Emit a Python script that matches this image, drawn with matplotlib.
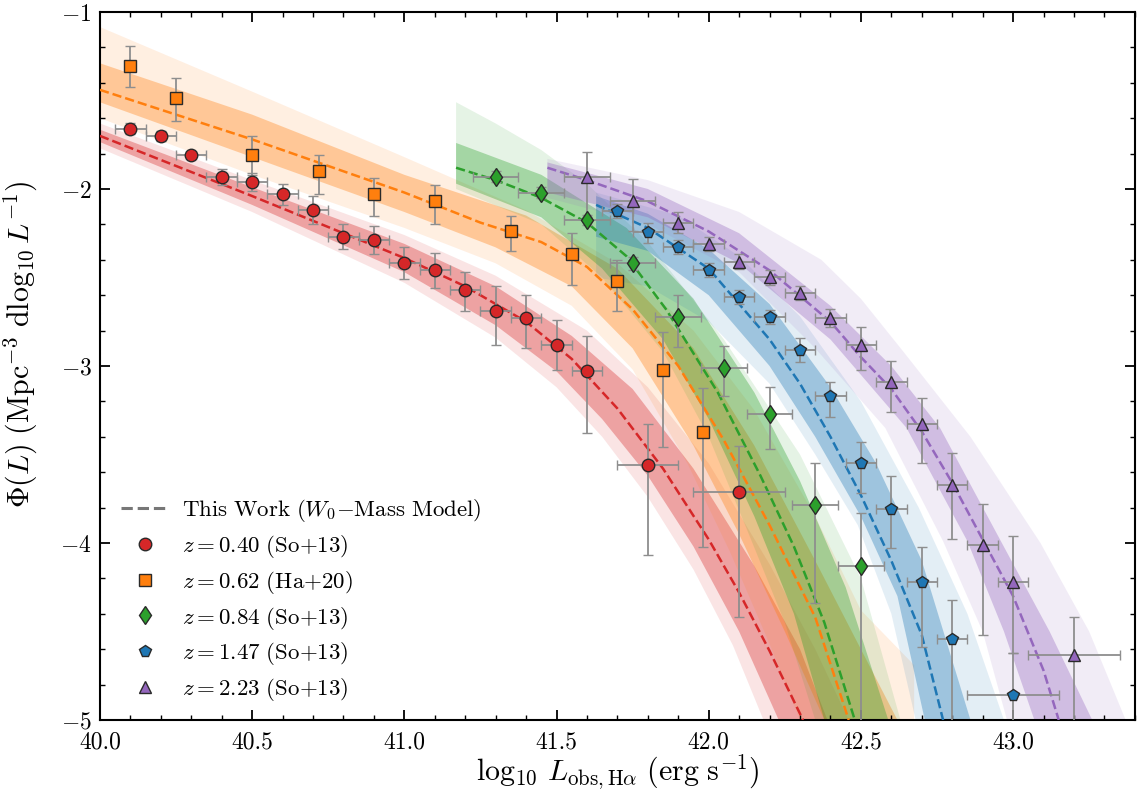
import numpy as np
import matplotlib
matplotlib.use('Agg')
import matplotlib.pyplot as plt
from matplotlib.lines import Line2D
from matplotlib.ticker import MultipleLocator, FormatStrFormatter

plt.rcParams['font.family'] = 'serif'
plt.rcParams['font.serif'] = ['cmr10', 'DejaVu Serif']
plt.rcParams['mathtext.fontset'] = 'cm'
plt.rcParams['axes.formatter.use_mathtext'] = True

red_x = [40.1, 40.2, 40.3, 40.4, 40.5, 40.6, 40.7, 40.8, 40.9, 41.0, 41.1, 41.2, 41.3, 41.4, 41.5, 41.6, 41.8, 42.1]
red_y = [-1.66, -1.70, -1.81, -1.93, -1.96, -2.03, -2.12, -2.27, -2.29, -2.42, -2.46, -2.57, -2.69, -2.73, -2.88, -3.03, -3.56, -3.71]
red_up = [0.03, 0.03, 0.02, 0.04, 0.05, 0.06, 0.08, 0.07, 0.08, 0.09, 0.10, 0.10, 0.14, 0.13, 0.14, 0.20, 0.23, 0.26]
red_dn = [0.03, 0.03, 0.02, 0.05, 0.05, 0.06, 0.08, 0.07, 0.08, 0.09, 0.10, 0.12, 0.19, 0.17, 0.14, 0.35, 0.51, 0.71]
red_xe = [0.05] * 16 + [0.10, 0.15]

ora_x = [40.1, 40.25, 40.5, 40.72, 40.9, 41.1, 41.35, 41.55, 41.7, 41.85, 41.98]
ora_y = [-1.305, -1.485, -1.81, -1.90, -2.03, -2.07, -2.24, -2.37, -2.52, -3.02, -3.375]
ora_up = [0.115, 0.11, 0.11, 0.09, 0.09, 0.09, 0.09, 0.12, 0.12, 0.21, 0.25]
ora_dn = [0.12, 0.13, 0.11, 0.13, 0.12, 0.13, 0.11, 0.17, 0.17, 0.44, 0.65]

grn_x = [41.3, 41.45, 41.6, 41.75, 41.9, 42.05, 42.2, 42.35, 42.5]
grn_y = [-1.93, -2.02, -2.175, -2.42, -2.725, -3.01, -3.27, -3.785, -4.13]
grn_up = [0.03, 0.03, 0.03, 0.035, 0.125, 0.125, 0.15, 0.235, 0.30]
grn_dn = [0.03, 0.03, 0.03, 0.035, 0.165, 0.16, 0.20, 0.555, 0.90]
grn_xe = [0.075] * 9

blu_x = [41.7, 41.8, 41.9, 42.0, 42.1, 42.2, 42.3, 42.4, 42.5, 42.6, 42.7, 42.8, 43.0]
blu_y = [-2.125, -2.245, -2.33, -2.46, -2.61, -2.725, -2.91, -3.17, -3.55, -3.81, -4.22, -4.54, -4.86]
blu_up = [0.04, 0.05, 0.04, 0.04, 0.04, 0.04, 0.07, 0.08, 0.12, 0.19, 0.20, 0.22, 0.24]
blu_dn = [0.04, 0.06, 0.04, 0.04, 0.04, 0.04, 0.07, 0.12, 0.17, 0.22, 0.37, 0.60, 0.50]
blu_xe = [0.05] * 12 + [0.15]

pur_x = [41.6, 41.75, 41.9, 42.0, 42.1, 42.2, 42.3, 42.4, 42.5, 42.6, 42.7, 42.8, 42.9, 43.0, 43.2]
pur_y = [-1.93, -2.07, -2.19, -2.31, -2.41, -2.50, -2.59, -2.73, -2.88, -3.09, -3.33, -3.67, -4.01, -4.22, -4.63]
pur_up = [0.14, 0.125, 0.06, 0.04, 0.04, 0.04, 0.04, 0.05, 0.10, 0.12, 0.15, 0.18, 0.23, 0.26, 0.21]
pur_dn = [0.23, 0.17, 0.06, 0.04, 0.04, 0.04, 0.04, 0.05, 0.14, 0.17, 0.22, 0.31, 0.51, 0.40, 0.50]
pur_xe = [0.075, 0.075] + [0.05] * 12 + [0.15]

# ---- model curves (dashed median) ----
red_mx = [40.0, 40.5, 41.0, 41.2, 41.4, 41.55, 41.7, 41.85, 42.0, 42.1, 42.2, 42.31]
red_my = [-1.70, -2.04, -2.39, -2.55, -2.75, -2.96, -3.24, -3.58, -3.98, -4.28, -4.61, -5.0]
ora_mx = [40.0, 40.5, 41.0, 41.25, 41.45, 41.6, 41.75, 41.9, 42.05, 42.2, 42.35, 42.46]
ora_my = [-1.44, -1.72, -2.02, -2.19, -2.30, -2.44, -2.68, -3.00, -3.42, -3.90, -4.42, -5.0]
grn_mx = [41.17, 41.3, 41.45, 41.6, 41.73, 41.86, 42.03, 42.17, 42.28, 42.38, 42.48]
grn_my = [-1.88, -1.95, -2.05, -2.19, -2.38, -2.68, -3.15, -3.62, -4.02, -4.45, -5.0]
blu_mx = [41.63, 41.8, 42.0, 42.2, 42.3, 42.4, 42.5, 42.6, 42.7, 42.77]
blu_my = [-2.09, -2.22, -2.45, -2.85, -3.10, -3.40, -3.73, -4.10, -4.52, -5.0]
pur_mx = [41.47, 41.6, 41.8, 42.0, 42.2, 42.4, 42.5, 42.6, 42.7, 42.8, 42.9, 43.0, 43.1, 43.15]
pur_my = [-1.88, -1.95, -2.07, -2.24, -2.46, -2.75, -2.95, -3.13, -3.37, -3.66, -3.98, -4.30, -4.72, -5.0]

# ---- inner (dark) bands: upper edge / lower edge ----
red_in_up = ([40.0, 40.5, 41.0, 41.3, 41.55, 41.75, 41.95, 42.15, 42.3, 42.39],
             [-1.665, -1.99, -2.31, -2.55, -2.83, -3.13, -3.58, -4.13, -4.6, -5.0])
red_in_lo = ([40.0, 40.5, 41.0, 41.3, 41.5, 41.65, 41.8, 41.95, 42.1, 42.23],
             [-1.735, -2.09, -2.47, -2.77, -3.03, -3.30, -3.62, -4.02, -4.5, -5.0])
ora_in_up = ([40.0, 40.5, 41.0, 41.4, 41.7, 41.95, 42.15, 42.35, 42.5, 42.62],
             [-1.29, -1.58, -1.92, -2.15, -2.45, -2.90, -3.45, -4.1, -4.6, -5.0])
ora_in_lo = ([40.0, 40.5, 41.0, 41.3, 41.55, 41.75, 41.95, 42.1, 42.25, 42.38],
             [-1.51, -1.82, -2.13, -2.33, -2.55, -2.90, -3.45, -3.95, -4.5, -5.0])
grn_in_up = ([41.17, 41.45, 41.73, 41.95, 42.15, 42.3, 42.45, 42.59],
             [-1.74, -1.92, -2.22, -2.62, -3.15, -3.65, -4.25, -5.0])
grn_in_lo = ([41.17, 41.45, 41.65, 41.85, 42.0, 42.15, 42.28, 42.38],
             [-1.97, -2.16, -2.45, -2.85, -3.3, -3.85, -4.4, -5.0])
blu_in_up = ([41.63, 41.8, 42.0, 42.2, 42.4, 42.55, 42.7, 42.86],
             [-2.04, -2.14, -2.34, -2.65, -3.12, -3.55, -4.1, -5.0])
blu_in_lo = ([41.63, 41.8, 42.0, 42.2, 42.35, 42.5, 42.62, 42.71],
             [-2.27, -2.35, -2.60, -3.0, -3.4, -3.85, -4.3, -5.0])
pur_in_up = ([41.47, 41.8, 42.1, 42.4, 42.6, 42.76, 42.96, 43.12, 43.26],
             [-1.85, -2.00, -2.25, -2.66, -3.0, -3.35, -3.99, -4.5, -5.0])
pur_in_lo = ([41.47, 41.8, 42.1, 42.4, 42.55, 42.65, 42.85, 42.97, 43.07],
             [-2.02, -2.16, -2.42, -2.85, -3.15, -3.35, -3.99, -4.5, -5.0])

# ---- outer (light) bands ----
red_out_up = ([40.0, 40.5, 41.0, 41.3, 41.6, 41.8, 42.0, 42.2, 42.35, 42.46],
              [-1.63, -1.95, -2.26, -2.49, -2.80, -3.12, -3.55, -4.12, -4.6, -5.0])
red_out_lo = ([40.0, 40.5, 41.0, 41.3, 41.5, 41.65, 41.8, 41.95, 42.08, 42.18],
              [-1.77, -2.13, -2.53, -2.84, -3.12, -3.40, -3.74, -4.15, -4.58, -5.0])
ora_out_up = ([40.0, 40.5, 41.0, 41.4, 41.7, 41.95, 42.15, 42.35, 42.5, 42.675, 42.675],
              [-1.085, -1.45, -1.82, -2.12, -2.42, -2.80, -3.25, -3.85, -4.38, -4.69, -5.0])
ora_out_lo = ([40.0, 40.5, 41.0, 41.3, 41.55, 41.75, 41.93, 42.07, 42.2, 42.3],
              [-1.60, -1.92, -2.22, -2.42, -2.66, -3.02, -3.55, -4.05, -4.57, -5.0])
grn_out_up = ([41.17, 41.3, 41.45, 41.6, 41.8, 42.05, 42.3, 42.5, 42.63],
              [-1.51, -1.63, -1.78, -1.97, -2.30, -2.85, -3.5, -4.2, -5.0])
grn_out_lo = ([41.17, 41.45, 41.65, 41.85, 42.0, 42.12, 42.25, 42.35],
              [-2.0, -2.2, -2.5, -2.92, -3.4, -3.9, -4.45, -5.0])
blu_out_up = ([41.63, 41.9, 42.1, 42.3, 42.5, 42.69, 42.85, 42.97],
              [-2.02, -2.15, -2.38, -2.72, -3.2, -3.8, -4.4, -5.0])
blu_out_lo = ([41.63, 41.8, 42.0, 42.2, 42.35, 42.49, 42.6, 42.68],
              [-2.50, -2.55, -2.75, -3.1, -3.5, -3.9, -4.4, -5.0])
pur_out_up = ([41.47, 41.8, 42.1, 42.37, 42.5, 42.64, 42.86, 43.09, 43.25, 43.37],
              [-1.83, -1.95, -2.13, -2.40, -2.62, -2.92, -3.40, -4.0, -4.5, -5.0])
pur_out_lo = ([41.47, 41.8, 42.1, 42.35, 42.58, 42.77, 42.9, 42.98],
              [-2.05, -2.2, -2.47, -2.9, -3.35, -3.99, -4.5, -5.0])

labels = [r'$z = 0.40\ (\mathrm{So}{+}13)$', r'$z = 0.62\ (\mathrm{Ha}{+}20)$',
          r'$z = 0.84\ (\mathrm{So}{+}13)$', r'$z = 1.47\ (\mathrm{So}{+}13)$',
          r'$z = 2.23\ (\mathrm{So}{+}13)$']
colors = ['#d62728', '#ff7f0e', '#2ca02c', '#1f77b4', '#9467bd']
markers = ['o', 's', 'd', 'p', '^']
msizes = [9, 8.5, 9.5, 8.5, 9]


def band(ax, up, lo, color, alpha):
    xs = np.r_[up[0], lo[0][::-1]]
    ys = np.r_[up[1], lo[1][::-1]]
    ax.fill(xs, ys, color=color, alpha=alpha, lw=0, zorder=1)


fig = plt.figure(figsize=(11.41, 7.92), dpi=100)
ax = fig.add_axes([0.0876, 0.0909, 0.907, 0.894])

models = [
    (red_mx, red_my, red_in_up, red_in_lo, red_out_up, red_out_lo),
    (ora_mx, ora_my, ora_in_up, ora_in_lo, ora_out_up, ora_out_lo),
    (grn_mx, grn_my, grn_in_up, grn_in_lo, grn_out_up, grn_out_lo),
    (blu_mx, blu_my, blu_in_up, blu_in_lo, blu_out_up, blu_out_lo),
    (pur_mx, pur_my, pur_in_up, pur_in_lo, pur_out_up, pur_out_lo),
]
for (mx, my, iu, il, ou, ol), c in zip(models, colors):
    band(ax, ou, ol, c, 0.12)
    band(ax, iu, il, c, 0.35)
    ax.plot(mx, my, ls='--', color=c, lw=1.8, zorder=3)

obs = [
    (red_x, red_y, red_dn, red_up, red_xe),
    (ora_x, ora_y, ora_dn, ora_up, None),
    (grn_x, grn_y, grn_dn, grn_up, grn_xe),
    (blu_x, blu_y, blu_dn, blu_up, blu_xe),
    (pur_x, pur_y, pur_dn, pur_up, pur_xe),
]
for (x, y, dn, up, xe), c, m, ms in zip(obs, colors, markers, msizes):
    ax.errorbar(x, y, yerr=[dn, up], xerr=xe, fmt=m, ms=ms, mfc=c, mec='#2a2a2a', mew=1.0,
                ecolor='#8e8e8e', elinewidth=1.3, capsize=3.5, capthick=1.2, zorder=5)

ax.set_xlim(40.0, 43.4)
ax.set_ylim(-5, -1)
ax.xaxis.set_major_locator(MultipleLocator(0.5))
ax.xaxis.set_minor_locator(MultipleLocator(0.1))
ax.yaxis.set_major_locator(MultipleLocator(1))
ax.yaxis.set_minor_locator(MultipleLocator(0.2))
ax.xaxis.set_major_formatter(FormatStrFormatter('%.1f'))
ax.tick_params(which='both', direction='in', top=True, right=True, labelsize=17)
ax.tick_params(which='major', length=7, width=1.3)
ax.tick_params(which='minor', length=3.5, width=1.0)
ax.tick_params(axis='x', which='major', pad=8)
ax.tick_params(axis='y', which='major', pad=6)
for s in ax.spines.values():
    s.set_linewidth(1.5)

ax.set_xlabel(r'$\log_{10}\,L_{\mathrm{obs,H}\alpha}\ (\mathrm{erg\ s}^{-1})$', fontsize=21.5)
ax.xaxis.set_label_coords(0.5, -0.046)
ax.set_ylabel(r'$\Phi(L)\ (\mathrm{Mpc}^{-3}\ \mathrm{dlog}_{10}\,L^{-1})$', fontsize=21.5)
ax.yaxis.set_label_coords(-0.058, 0.53)

handles = [Line2D([], [], color='#777777', ls='--', lw=2.2)]
for c, m, ms in zip(colors, markers, msizes):
    handles.append(Line2D([], [], ls='none', marker=m, ms=ms, mfc=c, mec='#2a2a2a', mew=1.0))
leg_labels = [r'$\mathrm{This\ Work\ (}W_0\mathrm{-Mass\ Model)}$'] + labels
ax.legend(handles, leg_labels, loc='lower left', bbox_to_anchor=(0.0, -0.005), frameon=False,
          fontsize=16.5, handlelength=2.1, labelspacing=0.38, handletextpad=0.6)

fig.savefig('out.png', dpi=100)
